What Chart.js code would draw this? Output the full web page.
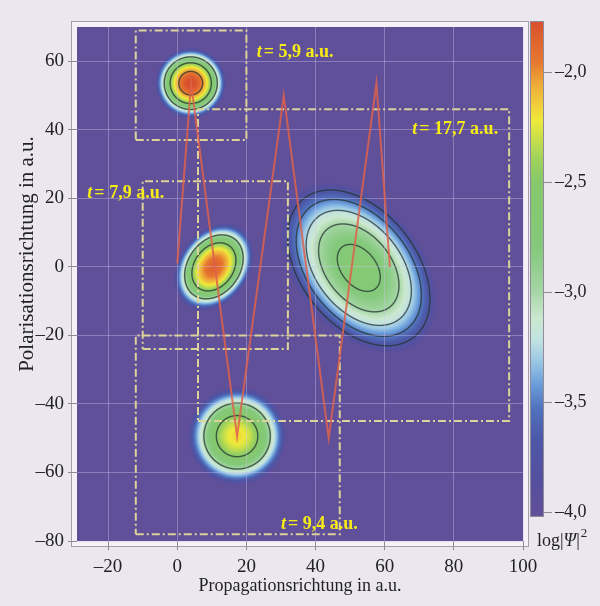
<!DOCTYPE html>
<html>
<head>
<meta charset="utf-8">
<script src="https://cdn.jsdelivr.net/npm/chart.js@4.4.1/dist/chart.umd.min.js"></script>
<style>
	html, body { margin: 0; padding: 0; background: #ebe7ef; }
	#wrap { width: 600px; height: 606px; }
</style>
</head>
<body>
<div id="wrap"><canvas id="myChart" width="600" height="606"></canvas></div>
<script>
// axis ticks
const xTicks = [-20, 0, 20, 40, 60, 80, 100]
const yTicks = [60, 40, 20, 0, -20, -40, -60, -80]
const cbTicks = [-2.0, -2.5, -3.0, -3.5, -4.0]

// classical trajectory (a.u.)
const pathX = [0, 4, 17.3, 30.8, 43.8, 57.6, 61.5]
const pathY = [1, 53.5, -49.5, 50, -50, 53.5, 0]

// wave packets: centre, semi-axes, tilt (deg), peak log|Psi|^2
const blobX = [3.9, 10.6, 52.5, 17.3]
const blobY = [53.6, 0, -0.3, -49.4]
const blobA = [10.3, 13.8, 28.5, 14.3]
const blobB = [10.3, 10.3, 18.5, 14.3]
const blobAngle = [0, 55, -52, 0]
const blobPeak = [-1.75, -1.85, -2.65, -2.18]
const blobContours = [
	[-2.0, -2.5, -3.0],
	[-2.5, -3.0],
	[-2.75, -3.0, -3.25, -3.5, -3.75],
	[-2.5, -3.0]
]

// snapshot frames and their labels
const frameX0 = [-12, 6, -10, -12]
const frameX1 = [20, 96, 32, 47]
const frameY0 = [37, -45, -24, -78]
const frameY1 = [69, 46, 25, -20]
const labelTime = ['5,9', '17,7', '7,9', '9,4']
const labelX = [23, 68, -26, 30]
const labelY = [62.6, 40, 21.5, -75]

// colour scale
const cbMin = -4.02, cbMax = -1.77
const cmapV = [-4.0, -3.85, -3.67, -3.53, -3.42, -3.33, -3.22, -3.12, -3.0, -2.8, -2.5, -2.4, -2.3, -2.22, -2.15, -2.05, -1.95, -1.77]
const cmapC = ['#604f99', '#54509f', '#4c58a7', '#5172bd', '#6b9dd9', '#94c3e4', '#c1e2e2', '#cce8cf', '#a6d6a6', '#84c97c', '#86c86a', '#9ed25c', '#c8df4a', '#efea3a', '#f0cf3a', '#eea938', '#e6782f', '#d9502e']

const PROFILE = 2
const FONT = "'Liberation Serif', 'Times New Roman', serif"

const cmapRGB = cmapC.map(h => [1, 3, 5].map(i => parseInt(h.substr(i, 2), 16)))

function colorFor(v) {
	if (v <= cmapV[0]) return cmapRGB[0]
	const n = cmapV.length
	if (v >= cmapV[n - 1]) return cmapRGB[n - 1]
	for (let i = 1; i < n; i++) {
		if (v <= cmapV[i]) {
			const t = (v - cmapV[i - 1]) / (cmapV[i] - cmapV[i - 1])
			const a = cmapRGB[i - 1], b = cmapRGB[i]
			return [a[0] + (b[0] - a[0]) * t, a[1] + (b[1] - a[1]) * t, a[2] + (b[2] - a[2]) * t]
		}
	}
}

function fieldAt(x, y) {
	let best = -99, bi = -1
	for (let i = 0; i < blobX.length; i++) {
		const t = blobAngle[i] * Math.PI / 180
		const dx = x - blobX[i], dy = y - blobY[i]
		const u = (dx * Math.cos(t) + dy * Math.sin(t)) / blobA[i]
		const w = (-dx * Math.sin(t) + dy * Math.cos(t)) / blobB[i]
		const q = Math.sqrt(u * u + w * w)
		const v = blobPeak[i] - (blobPeak[i] + 4.0) * Math.pow(q, PROFILE)
		if (v > best) { best = v; bi = i }
	}
	return [best, bi]
}

let heatCache = null

const heatmapPlugin = {
	id: 'heatmap',
	beforeDraw(chart) {
		const { ctx, chartArea: a, scales } = chart
		// plot frame
		ctx.save()
		ctx.fillStyle = '#f4f2f6'
		ctx.fillRect(a.left - 5, a.top - 5, a.width + 10, a.height + 10)
		ctx.strokeStyle = '#a29eab'
		ctx.lineWidth = 1
		ctx.strokeRect(a.left - 5.5, a.top - 5.5, a.width + 11, a.height + 11)
		ctx.restore()

		if (!heatCache) {
			const w = Math.round(a.width), h = Math.round(a.height)
			const V = new Float32Array(w * h), I = new Int8Array(w * h)
			for (let j = 0; j < h; j++) {
				const y = scales.y.getValueForPixel(a.top + j + 0.5)
				for (let i = 0; i < w; i++) {
					const x = scales.x.getValueForPixel(a.left + i + 0.5)
					const r = fieldAt(x, y)
					V[j * w + i] = r[0]
					I[j * w + i] = r[1]
				}
			}
			const off = document.createElement('canvas')
			off.width = w
			off.height = h
			const octx = off.getContext('2d')
			const img = octx.createImageData(w, h)
			for (let j = 0; j < h; j++) {
				for (let i = 0; i < w; i++) {
					const k = j * w + i
					const c = colorFor(V[k])
					let r = c[0], g = c[1], b = c[2]
					if (i > 0 && j > 0 && i < w - 1 && j < h - 1 && V[k] > -4.0) {
						const gx = (V[k + 1] - V[k - 1]) / 2, gy = (V[k + w] - V[k - w]) / 2
						const gr = Math.hypot(gx, gy) || 1e-6
						for (const L of blobContours[I[k]]) {
							const d = Math.abs(V[k] - L) / gr
							if (d < 1.2) {
								const al = Math.min(1, 1.2 - d) * 0.75
								r = r * (1 - al) + 35 * al
								g = g * (1 - al) + 50 * al
								b = b * (1 - al) + 48 * al
							}
						}
					}
					img.data[k * 4] = r
					img.data[k * 4 + 1] = g
					img.data[k * 4 + 2] = b
					img.data[k * 4 + 3] = 255
				}
			}
			octx.putImageData(img, 0, 0)
			heatCache = off
		}
		ctx.drawImage(heatCache, a.left, a.top)
	}
}

const labelsPlugin = {
	id: 'labels',
	afterDatasetsDraw(chart) {
		const { ctx, scales } = chart
		ctx.save()
		ctx.fillStyle = '#f6ec17'
		ctx.textBaseline = 'middle'
		ctx.textAlign = 'left'
		for (let i = 0; i < labelTime.length; i++) {
			let px = scales.x.getPixelForValue(labelX[i])
			const py = scales.y.getPixelForValue(labelY[i])
			ctx.font = 'italic bold 18px ' + FONT
			ctx.fillText('t', px, py)
			px += ctx.measureText('t').width + 2
			ctx.font = 'bold 18px ' + FONT
			ctx.fillText('= ' + labelTime[i] + ' a.u.', px, py)
		}
		ctx.restore()
	}
}

const colorbarPlugin = {
	id: 'colorbar',
	afterDraw(chart) {
		const { ctx } = chart
		const x0 = 531, x1 = 543, top = 22, bottom = 516
		const toY = v => top + (cbMax - v) / (cbMax - cbMin) * (bottom - top)
		ctx.save()
		for (let y = top; y < bottom; y++) {
			const v = cbMax - (y + 0.5 - top) / (bottom - top) * (cbMax - cbMin)
			const c = colorFor(v)
			ctx.fillStyle = 'rgb(' + c.map(Math.round).join(',') + ')'
			ctx.fillRect(x0, y, x1 - x0, 1)
		}
		ctx.strokeStyle = '#8f8b98'
		ctx.lineWidth = 1
		ctx.strokeRect(x0 - 0.5, top - 0.5, x1 - x0 + 1, bottom - top + 1)
		ctx.fillStyle = '#222'
		ctx.font = '18px ' + FONT
		ctx.textBaseline = 'middle'
		ctx.textAlign = 'left'
		for (const t of cbTicks) {
			const y = Math.round(toY(t)) + 0.5
			ctx.beginPath()
			ctx.moveTo(x1 + 1, y)
			ctx.lineTo(x1 + 9, y)
			ctx.stroke()
			ctx.fillText('–' + Math.abs(t).toFixed(1).replace('.', ','), x1 + 12, y)
		}
		// unit label
		let px = 537
		const py = 541
		ctx.fillText('log|', px, py)
		px += ctx.measureText('log|').width
		ctx.font = 'italic 18px ' + FONT
		ctx.fillText('Ψ', px, py)
		px += ctx.measureText('Ψ').width
		ctx.font = '18px ' + FONT
		ctx.fillText('|', px, py)
		px += ctx.measureText('|').width + 1
		ctx.font = '13px ' + FONT
		ctx.fillText('2', px, py - 7)

		// y axis title
		ctx.font = '21px ' + FONT
		ctx.textAlign = 'center'
		ctx.translate(27, 254)
		ctx.rotate(-Math.PI / 2)
		ctx.fillText('Polarisationsrichtung in a.u.', 0, 0)
		ctx.restore()
	}
}

const fmt = v => (v < 0 ? '–' + Math.abs(v) : String(v))

const frameSets = frameX0.map((x0, i) => ({
	data: [
		{ x: x0, y: frameY0[i] }, { x: frameX1[i], y: frameY0[i] },
		{ x: frameX1[i], y: frameY1[i] }, { x: x0, y: frameY1[i] }, { x: x0, y: frameY0[i] }
	],
	showLine: true,
	borderColor: '#ddd29a',
	borderWidth: 2,
	borderDash: [8, 3, 2, 3],
	pointRadius: 0,
	order: 1
}))

new Chart(document.getElementById('myChart'), {
	type: 'scatter',
	data: {
		datasets: [
			{
				data: pathX.map((x, i) => ({ x, y: pathY[i] })),
				showLine: true,
				borderColor: 'rgba(222, 98, 76, 0.85)',
				borderWidth: 2,
				pointRadius: 0,
				tension: 0,
				order: 0
			},
			...frameSets
		]
	},
	options: {
		responsive: false,
		animation: false,
		events: [],
		layout: { padding: { left: 0, right: 77, top: 27, bottom: 0 } },
		plugins: { legend: { display: false }, tooltip: { enabled: false } },
		scales: {
			x: {
				type: 'linear',
				min: -29,
				max: 100,
				afterBuildTicks: s => { s.ticks = xTicks.map(v => ({ value: v })) },
				afterFit: s => { s.height = 65 },
				border: { display: false },
				grid: { color: 'rgba(205, 195, 235, 0.4)', lineWidth: 1, tickLength: 9, tickColor: '#8e8a96' },
				ticks: { font: { family: FONT, size: 19 }, color: '#222', padding: 6, maxRotation: 0, callback: fmt },
				title: { display: true, text: 'Propagationsrichtung in a.u.', font: { family: FONT, size: 18 }, color: '#222', padding: { top: 0, bottom: 9 } }
			},
			y: {
				type: 'linear',
				min: -80,
				max: 70,
				afterBuildTicks: s => { s.ticks = yTicks.map(v => ({ value: v })) },
				afterFit: s => { s.width = 77 },
				border: { display: false },
				grid: { color: 'rgba(205, 195, 235, 0.4)', lineWidth: 1, tickLength: 9, tickColor: '#8e8a96' },
				ticks: { font: { family: FONT, size: 19 }, color: '#222', padding: 4, callback: fmt },
				title: { display: false }
			}
		}
	},
	plugins: [heatmapPlugin, labelsPlugin, colorbarPlugin]
})
</script>
</body>
</html>
